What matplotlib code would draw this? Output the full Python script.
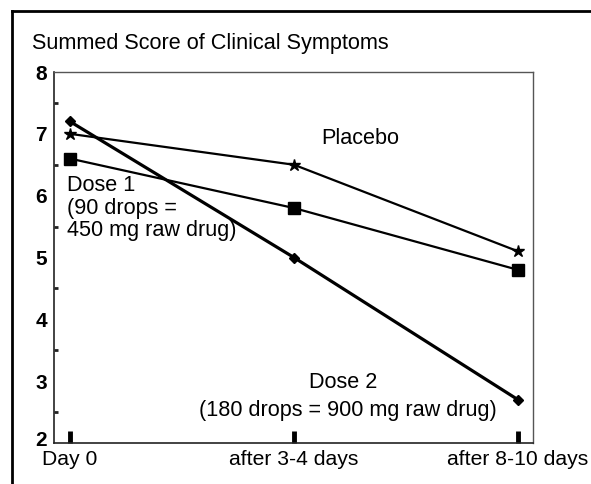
import numpy as np
import matplotlib.pyplot as plt
from matplotlib.lines import Line2D
from matplotlib.transforms import ScaledTranslation

plt.rcParams['font.family'] = ['Liberation Sans', 'DejaVu Sans']

# data
days = ['Day 0', 'after 3-4 days', 'after 8-10 days']
placebo = [7.0, 6.5, 5.1]
dose1 = [6.6, 5.8, 4.8]
dose2 = [7.2, 5.0, 2.7]
yticks_major = [2, 3, 4, 5, 6, 7, 8]
yticks_minor = [2.5, 3.5, 4.5, 5.5, 6.5, 7.5]

W, H = 591, 484
FS = 15.6  # annotation font size
fig = plt.figure(figsize=(W / 100, H / 100), dpi=100)

def fx(px):
    return px / W

def fy(py):
    return 1 - py / H

# axes: left 54, right 533, top 72, bottom 443 (pixels)
ax = fig.add_axes([fx(54), fy(443), fx(533) - fx(54), fy(72) - fy(443)])
x = np.arange(len(days))
ax.set_xlim(-0.071, 2.067)
ax.set_ylim(2, 8)

ax.plot(x, placebo, color='black', lw=1.6, marker='*', ms=9, zorder=3)
ax.plot(x, dose1, color='black', lw=1.6, marker='s', ms=8, zorder=3)
ax.plot(x, dose2, color='black', lw=2.3, marker='D', ms=5.5, zorder=3)

# spines
for s in ['left', 'bottom']:
    ax.spines[s].set_linewidth(1.2)
    ax.spines[s].set_color('#222222')
for s in ['top', 'right']:
    ax.spines[s].set_linewidth(1.0)
    ax.spines[s].set_color('#555555')

# y ticks: bold labels at integers, small marks at half units
ax.set_yticks(yticks_major)
ax.set_yticklabels([str(v) for v in yticks_major], fontsize=15, fontweight='bold')
ax.tick_params(axis='y', which='major', length=0, pad=5)
ax.set_yticks(yticks_minor, minor=True)
ax.tick_params(axis='y', which='minor', length=3, width=2, direction='in', color='#222222')
# lift the bottom "2" a little so it clears "Day 0"
lab2 = ax.get_yticklabels()[0]
lab2.set_transform(lab2.get_transform() + ScaledTranslation(0, 4 / 100, fig.dpi_scale_trans))

# x ticks: thick marks upward from bottom
ax.set_xticks(x)
ax.set_xticklabels(days, fontsize=15.2)
ax.tick_params(axis='x', which='major', length=9, width=3.5, direction='in', pad=5, color='black')
ax.tick_params(top=False, right=False)

# texts
fig.text(fx(32), fy(44), 'Summed Score of Clinical Symptoms', fontsize=FS, va='center', ha='left')
ax.text(1.12, 6.92, 'Placebo', fontsize=FS, ha='left', va='center')
ax.text(-0.012, 6.33, 'Dose 1\n(90 drops =\n450 mg raw drug)', fontsize=FS,
        ha='left', va='top', linespacing=1.1)
ax.text(1.22, 2.98, 'Dose 2', fontsize=FS, ha='center', va='center')
ax.text(1.24, 2.53, '(180 drops = 900 mg raw drug)', fontsize=FS, ha='center', va='center')

# outer frame (top and left edges only)
fig.add_artist(Line2D([fx(12), fx(12)], [fy(11), 0], transform=fig.transFigure, color='black', lw=2))
fig.add_artist(Line2D([fx(12), 1], [fy(11), fy(11)], transform=fig.transFigure, color='black', lw=2))

fig.savefig('out.png', dpi=100)
